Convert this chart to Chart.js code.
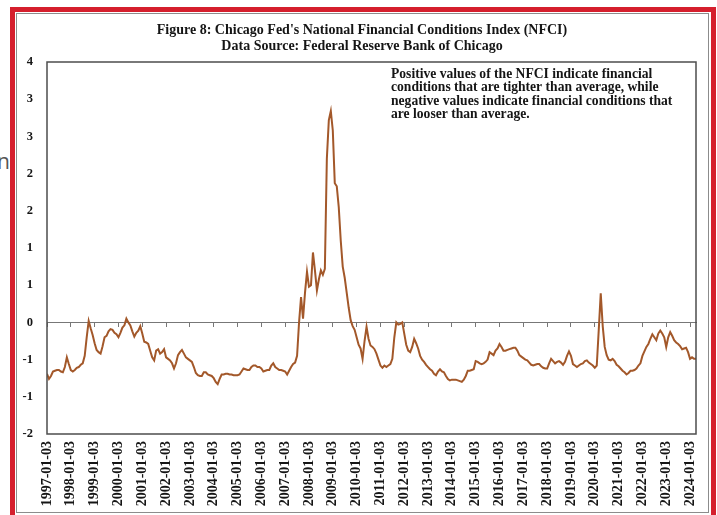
<!DOCTYPE html>
<html>
<head>
<meta charset="utf-8">
<script src="https://cdn.jsdelivr.net/npm/chart.js@4.4.1/dist/chart.umd.min.js"></script>
<style>
  html, body { margin: 0; padding: 0; background: #fff; }
  #page { position: relative; width: 717px; height: 515px; overflow: hidden; }
  #frame { position: absolute; left: 10px; top: 7px; width: 706px; height: 530px; box-sizing: border-box; border: 5px solid #d51f2d; }
  #inner { position: absolute; left: 16px; top: 13px; width: 693px; height: 500px; box-sizing: border-box; border: 1px solid #8c8c8c; }
  #stray { position: absolute; left: -3px; top: 151px; font: 21px/21px "Open Sans", sans-serif; color: #555; }
  canvas { position: absolute; left: 0; top: 0; }
</style>
</head>
<body>
<div id="page">
  <span id="stray">n</span>
  <div id="frame"></div>
  <div id="inner"></div>
  <canvas id="nfciChart" width="717" height="515"></canvas>
</div>
<script>
// NFCI, monthly readings, first value = 1997-01
const startYear = 1997;
const nfci = [
  -0.69, -0.76, -0.72, -0.66, -0.65, -0.64, -0.64, -0.66, -0.67, -0.60, -0.47, -0.56, // 1997
  -0.64, -0.66, -0.64, -0.61, -0.60, -0.57, -0.55, -0.45, -0.20,  0.02, -0.08, -0.17, // 1998
  -0.28, -0.37, -0.40, -0.42, -0.32, -0.20, -0.18, -0.12, -0.09, -0.10, -0.14, -0.16, // 1999
  -0.20, -0.14, -0.07, -0.04,  0.05,  0.00, -0.04, -0.12, -0.19, -0.14, -0.11, -0.05, // 2000
  -0.15, -0.26, -0.27, -0.29, -0.38, -0.47, -0.51, -0.38, -0.36, -0.42, -0.40, -0.36, // 2001
  -0.47, -0.49, -0.51, -0.55, -0.62, -0.55, -0.44, -0.40, -0.37, -0.42, -0.47, -0.49, // 2002
  -0.51, -0.53, -0.60, -0.68, -0.71, -0.72, -0.72, -0.67, -0.67, -0.70, -0.71, -0.72, // 2003
  -0.75, -0.80, -0.83, -0.76, -0.70, -0.70, -0.69, -0.69, -0.70, -0.70, -0.71, -0.71, // 2004
  -0.71, -0.70, -0.66, -0.62, -0.63, -0.64, -0.64, -0.60, -0.58, -0.58, -0.60, -0.60, // 2005
  -0.62, -0.66, -0.65, -0.64, -0.64, -0.58, -0.55, -0.60, -0.62, -0.64, -0.64, -0.65, // 2006
  -0.66, -0.70, -0.65, -0.60, -0.56, -0.54, -0.45,  0.00,  0.34,  0.05,  0.40,  0.68, // 2007
   0.48,  0.50,  0.94,  0.70,  0.43,  0.58,  0.70,  0.64,  0.72,  2.20,  2.72,  2.84, // 2008
   2.58,  1.87,  1.83,  1.55,  1.10,  0.75,  0.60,  0.40,  0.20,  0.03, -0.05, -0.10, // 2009
  -0.20, -0.30, -0.35, -0.49, -0.25, -0.06, -0.22, -0.31, -0.33, -0.36, -0.42, -0.50, // 2010
  -0.58, -0.61, -0.58, -0.60, -0.58, -0.56, -0.49, -0.20,  0.00, -0.03, -0.02,  0.00, // 2011
  -0.15, -0.30, -0.38, -0.40, -0.33, -0.22, -0.28, -0.35, -0.45, -0.50, -0.53, -0.57, // 2012
  -0.60, -0.63, -0.65, -0.69, -0.71, -0.66, -0.63, -0.66, -0.67, -0.72, -0.76, -0.78, // 2013
  -0.77, -0.77, -0.77, -0.78, -0.79, -0.80, -0.77, -0.72, -0.65, -0.65, -0.64, -0.63, // 2014
  -0.52, -0.53, -0.55, -0.56, -0.55, -0.53, -0.50, -0.40, -0.42, -0.44, -0.38, -0.35, // 2015
  -0.29, -0.33, -0.38, -0.38, -0.37, -0.36, -0.35, -0.34, -0.34, -0.38, -0.44, -0.46, // 2016
  -0.48, -0.50, -0.51, -0.54, -0.57, -0.58, -0.57, -0.56, -0.56, -0.59, -0.61, -0.62, // 2017
  -0.62, -0.55, -0.49, -0.52, -0.55, -0.53, -0.52, -0.54, -0.57, -0.53, -0.45, -0.39, // 2018
  -0.45, -0.56, -0.58, -0.60, -0.58, -0.56, -0.55, -0.52, -0.51, -0.54, -0.56, -0.58, // 2019
  -0.61, -0.58, -0.10,  0.39, -0.05, -0.33, -0.44, -0.50, -0.51, -0.49, -0.52, -0.57, // 2020
  -0.59, -0.62, -0.65, -0.67, -0.70, -0.68, -0.65, -0.65, -0.64, -0.62, -0.58, -0.55, // 2021
  -0.45, -0.39, -0.33, -0.29, -0.22, -0.16, -0.20, -0.24, -0.15, -0.11, -0.15, -0.20, // 2022
  -0.33, -0.20, -0.13, -0.18, -0.24, -0.27, -0.29, -0.32, -0.36, -0.35, -0.34, -0.40, // 2023
  -0.49, -0.47, -0.49, -0.49                                                          // 2024
];

const xTickLabels = [
  '1997-01-03', '1998-01-03', '1999-01-03', '2000-01-03', '2001-01-03', '2002-01-03', '2003-01-03',
  '2004-01-03', '2005-01-03', '2006-01-03', '2007-01-03', '2008-01-03', '2009-01-03', '2010-01-03',
  '2011-01-03', '2012-01-03', '2013-01-03', '2014-01-03', '2015-01-03', '2016-01-03', '2017-01-03',
  '2018-01-03', '2019-01-03', '2020-01-03', '2021-01-03', '2022-01-03', '2023-01-03', '2024-01-03'
];
// y ticks -1.5 .. 3.5 step 0.5, shown rounded like the original
const yTickLabels = ['-2', '-1', '-1', '0', '1', '1', '2', '2', '3', '3', '4'];

const titleLines = [
  "Figure 8: Chicago Fed's National Financial Conditions Index (NFCI)",
  'Data Source: Federal Reserve Bank of Chicago'
];
const noteLines = [
  'Positive values of the NFCI indicate financial',
  'conditions that are tighter than average, while',
  'negative values indicate financial conditions that',
  'are looser than average.'
];

const serif = '"Liberation Serif", "Times New Roman", serif';

// title, plot frame and text box
const notePlugin = {
  id: 'note',
  afterDraw(chart) {
    const { ctx, chartArea } = chart;
    ctx.save();
    ctx.strokeStyle = '#4d4d4d';
    ctx.lineWidth = 1.5;
    ctx.strokeRect(chartArea.left, chartArea.top, chartArea.right - chartArea.left, chartArea.bottom - chartArea.top);
    ctx.fillStyle = '#151515';
    ctx.textBaseline = 'middle';
    ctx.font = 'bold 14px ' + serif;
    ctx.textAlign = 'center';
    titleLines.forEach((t, i) => ctx.fillText(t, 362, 30 + i * 16));
    ctx.font = 'bold 13.6px ' + serif;
    ctx.textAlign = 'left';
    noteLines.forEach((t, i) => ctx.fillText(t, 391, 74 + i * 13.6));
    ctx.restore();
  }
};

const points = nfci.map((v, i) => ({ x: startYear + i / 12, y: v }));

new Chart(document.getElementById('nfciChart').getContext('2d'), {
  type: 'line',
  data: {
    datasets: [{
      data: points,
      borderColor: '#a3582a',
      borderWidth: 2,
      pointRadius: 0,
      tension: 0
    }]
  },
  options: {
    responsive: false,
    animation: false,
    devicePixelRatio: 1,
    layout: { padding: { left: 12, right: 21, top: 62, bottom: 0 } },
    plugins: {
      legend: { display: false },
      tooltip: { enabled: false },
      title: { display: false }
    },
    scales: {
      x: {
        type: 'linear',
        min: 1997,
        max: 2024.25,
        grid: { display: false, drawTicks: false },
        border: { display: false },
        afterFit(scale) { scale.height = 81; },
        ticks: {
          stepSize: 1,
          includeBounds: false,
          autoSkip: false,
          maxRotation: 90,
          minRotation: 90,
          padding: 7,
          color: '#151515',
          font: { family: serif, size: 14, weight: 'bold' },
          callback: v => xTickLabels[Math.round(v - startYear)]
        }
      },
      x2: {
        type: 'linear',
        position: { y: 0 },
        min: 1997,
        max: 2024.25,
        grid: { drawOnChartArea: false, drawTicks: true, tickLength: 4, color: '#777' },
        border: { display: true, color: '#777', width: 1 },
        ticks: { stepSize: 1, includeBounds: false, display: false }
      },
      y: {
        min: -1.5,
        max: 3.5,
        grid: { display: false, drawTicks: false },
        border: { display: false },
        afterFit(scale) { scale.width = 35; },
        ticks: {
          stepSize: 0.5,
          padding: 14,
          color: '#151515',
          font: { family: serif, size: 12.5, weight: 'bold' },
          callback: v => yTickLabels[Math.round((v + 1.5) / 0.5)]
        }
      }
    }
  },
  plugins: [notePlugin]
});
</script>
</body>
</html>
